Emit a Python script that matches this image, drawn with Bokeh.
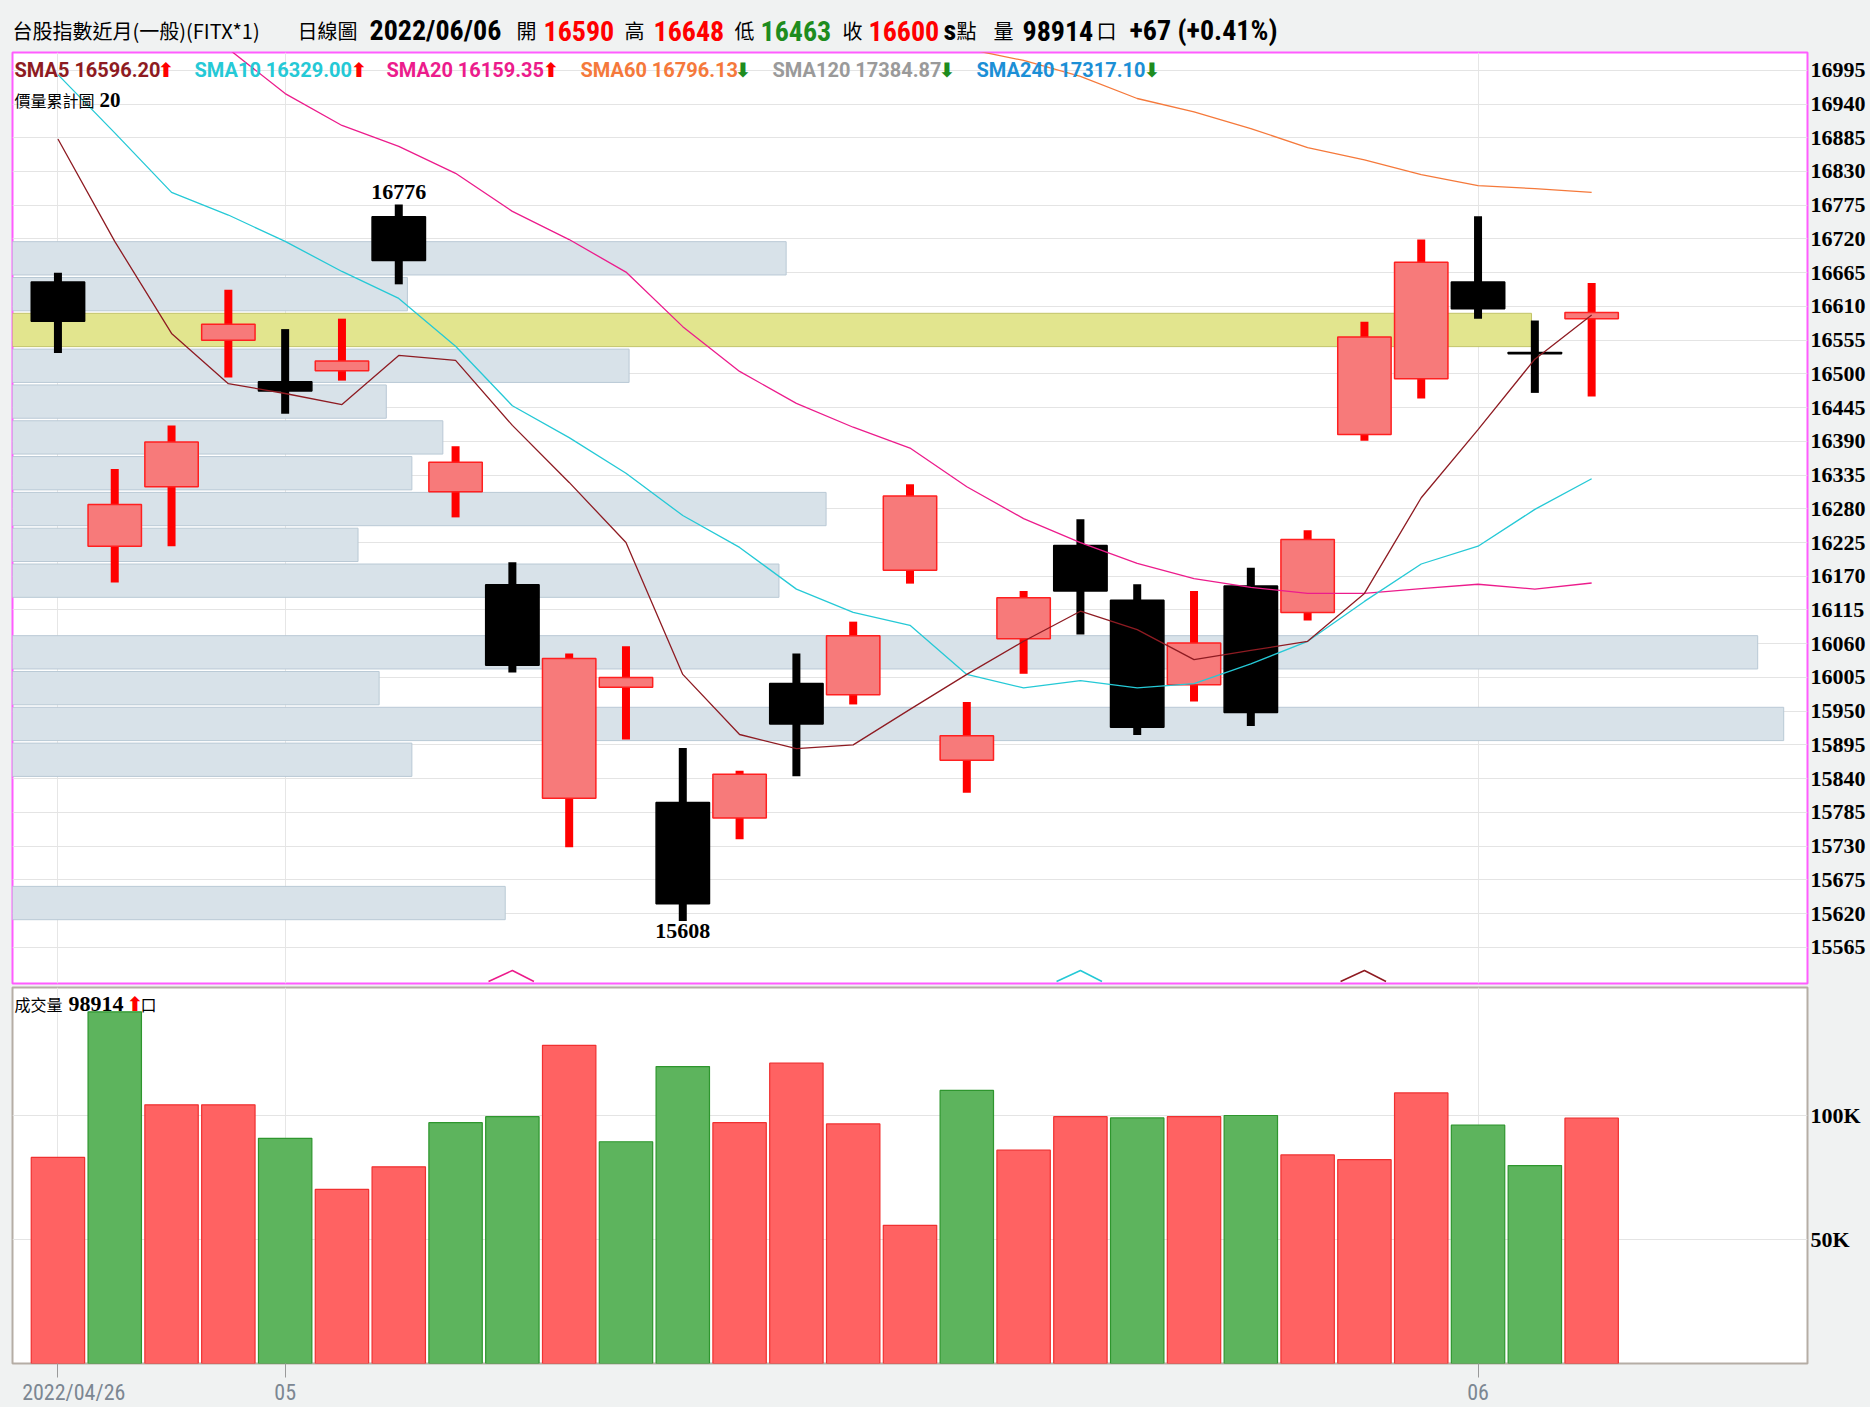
import numpy as np
from bokeh.plotting import figure
from bokeh.layouts import column
from bokeh.models import Range1d, FixedTicker
from bokeh.core.properties import value
from bokeh.embed import file_html
from bokeh.resources import INLINE

# ---------------- data ----------------
year = "2022"
dates = ["2022/04/26", "04/27", "04/28", "04/29", "05/03", "05/04", "05/05", "05/06",
         "05/09", "05/10", "05/11", "05/12", "05/13", "05/16", "05/17", "05/18", "05/19",
         "05/20", "05/23", "05/24", "05/25", "05/26", "05/27", "05/30", "05/31", "06/01",
         "06/02", "06/06"]
opens = [16650, 16219, 16316, 16555, 16487, 16505, 16756, 16308, 16156, 15808, 15989, 15801,
         15776, 15995, 15977, 16180, 15870, 16068, 16220, 16131, 15993, 16154, 16111, 16401,
         16492, 16650, 16535, 16590]
highs = [16665, 16345, 16416, 16637, 16573, 16590, 16776, 16382, 16193, 16044, 16056, 15890,
         15853, 16044, 16096, 16320, 15965, 16146, 16263, 16157, 16146, 16184, 16245, 16585,
         16719, 16757, 16587, 16648]
lows = [16534, 16160, 16219, 16494, 16435, 16489, 16646, 16266, 16013, 15728, 15904, 15608,
        15741, 15844, 15961, 16158, 15817, 16011, 16075, 15911, 15966, 15926, 16098, 16391,
        16460, 16590, 16469, 16463]
closes = [16586, 16287, 16389, 16581, 16472, 16521, 16685, 16356, 16025, 16036, 16005, 15636,
          15847, 15929, 16073, 16301, 15910, 16135, 16146, 15924, 16061, 15948, 16230, 16560,
          16682, 16606, 16533, 16600]
volumes = [83100, 141800, 104300, 104300, 90800, 70200, 79300, 97100, 99500, 128300, 89400,
           119700, 97100, 121100, 96600, 55700, 110100, 86000, 99500, 99000, 99500, 100000,
           84100, 82200, 109100, 96100, 79800, 98914]

sma5 = [16883, 16716, 16566, 16484, 16468, 16450, 16530, 16522, 16416, 16323, 16225, 16010,
        15912, 15889, 15895, 15953, 16010, 16064, 16113, 16083, 16034, 16049, 16064, 16142,
        16298, 16409, 16524, 16596]
sma10 = [16988, 16893, 16796, 16759, 16716, 16667, 16623, 16545, 16448, 16396, 16338, 16269,
         16217, 16149, 16111, 16090, 16010, 15988, 16000, 15988, 15995, 16027, 16064, 16129,
         16190, 16219, 16279, 16329]
sma20 = [17180, 17130, 17080, 17030, 16957, 16905, 16871, 16827, 16765, 16719, 16666, 16577,
         16504, 16452, 16413, 16379, 16316, 16264, 16225, 16191, 16166, 16152, 16142, 16142,
         16150, 16157, 16149, 16159]
sma60 = [17330, 17310, 17290, 17270, 17250, 17230, 17210, 17190, 17170, 17150, 17130, 17110,
         17095, 17080, 17065, 17050, 17030, 17011, 16985, 16949, 16927, 16900, 16869, 16849,
         16825, 16807, 16802, 16796]

sma_names = ["SMA5", "SMA10", "SMA20", "SMA60", "SMA120", "SMA240"]
sma_last = [16596.20, 16329.00, 16159.35, 16796.13, 17384.87, 17317.10]
sma_up = [True, True, True, False, False, False]

# volume profile (價量累計圖), 20 bins from period high to low, top bin first
profile_bins = 20
profile = [0, 172.4, 88.0, 338.5, 137.4, 83.3, 95.9, 89.0, 181.3, 77.0, 170.8, 0,
           388.9, 81.7, 394.7, 89.0, 0, 0, 0, 109.8]

signal_idx = [8, 18, 23]

price_ticks = [15565, 15620, 15675, 15730, 15785, 15840, 15895, 15950, 16005, 16060, 16115,
               16170, 16225, 16280, 16335, 16390, 16445, 16500, 16555, 16610, 16665, 16720,
               16775, 16830, 16885, 16940, 16995]
vol_ticks = [50000, 100000]
vol_tick_labels = ["50K", "100K"]
date_tick_idx = [0, 4, 25]
date_tick_labels = ["\u2007\u20072022/04/26", "05", "06"]

# ---------------- styles ----------------
BG = "#F0F2F2"
W = 1870
C_SMA = ["#8E1B22", "#25C9D6", "#EC1C8C", "#F5793B", "#9A9A9A", "#1C8FD6"]
RED = "#FF0000"
GREEN = "#1E8C1E"
CJK = "Noto Sans CJK TC"
NUMF = "Roboto Condensed"
SERIF = "Liberation Serif"
LEGF = "Roboto"
ARROWF = "DejaVu Sans"
UPA, DNA = "\u2b06", "\u2b07"

n = len(dates)
x = np.arange(n)
o = np.array(opens); h = np.array(highs); l = np.array(lows); c = np.array(closes)
up = c > o

# ---------------- header ----------------
hdr = figure(width=W, height=50, x_range=Range1d(12, 1807), y_range=Range1d(50, 0),
             x_axis_location=None, y_axis_location=None, output_backend="svg",
             toolbar_location=None, min_border=0, border_fill_color=BG,
             background_fill_color=BG, outline_line_color=None)
hdr.grid.visible = False
chg = closes[-1] - closes[-2]
pct = chg / closes[-2] * 100
hdr_cjk = [(12, "台股指數近月(一般)(FITX*1)"), (297, "日線圖"), (516, "開"), (624, "高"),
           (734, "低"), (842, "收"), (956, "點"), (993, "量"), (1096, "口")]
hdr_num = [(369, f"{year}/{dates[-1]}", "black"), (543, str(opens[-1]), RED),
           (653, str(highs[-1]), RED), (760, str(lows[-1]), GREEN), (868, str(closes[-1]), RED),
           (943, "s", "black"), (1022, str(volumes[-1]), "black"),
           (1129, f"{chg:+d} ({pct:+.2f}%)", "black")]
hdr.text(x=[a for a, _ in hdr_cjk], y=[30] * len(hdr_cjk), text=[b for _, b in hdr_cjk],
         text_font=value(CJK), text_font_size=value("20px"), text_color="black",
         text_baseline="middle")
hdr.text(x=[a for a, _, _ in hdr_num], y=[30] * len(hdr_num), text=[b for _, b, _ in hdr_num],
         text_color=[cc for _, _, cc in hdr_num], text_font=value(NUMF),
         text_font_size=value("28px"), text_font_style="bold", text_baseline="middle")

# ---------------- main price chart ----------------
FW, FH = 1795, 931
p = figure(width=W, height=935, x_range=Range1d(-0.8, 30.8), y_range=Range1d(15506, 17024),
           y_axis_location="right", output_backend="svg", toolbar_location=None,
           min_border_left=12, min_border_right=63, min_border_top=2, min_border_bottom=2,
           border_fill_color=BG, background_fill_color="white",
           outline_line_color="#FF5CFF", outline_line_width=2)
p.extra_x_ranges = {"vp": Range1d(0, 400), "px": Range1d(0, FW)}
p.extra_y_ranges = {"py": Range1d(FH, 0)}
p.xaxis.visible = False
p.xgrid.ticker = FixedTicker(ticks=date_tick_idx)
p.xgrid.grid_line_color = "#E6E6E6"
p.ygrid.ticker = FixedTicker(ticks=price_ticks)
p.ygrid.grid_line_color = "#E4E4E4"
p.yaxis.ticker = FixedTicker(ticks=price_ticks)
p.yaxis.major_tick_out = 0
p.yaxis.major_tick_in = 0
p.yaxis.minor_tick_out = 0
p.yaxis.axis_line_color = None
p.yaxis.major_label_standoff = 3
p.yaxis.major_label_text_font = SERIF
p.yaxis.major_label_text_font_style = "bold"
p.yaxis.major_label_text_font_size = "22px"
p.yaxis.major_label_text_color = "black"

# volume profile bars
hi, lo = max(highs), min(lows)
step = (hi - lo) / profile_bins
cur_bin = int((hi - closes[-1]) // step)
vp_y, vp_r, vp_fill, vp_line = [], [], [], []
for i, val in enumerate(profile):
    if val <= 0:
        continue
    vp_y.append(hi - step * (i + 0.5))
    vp_r.append(val)
    vp_fill.append("#E2E58E" if i == cur_bin else "#D8E2E9")
    vp_line.append("#C2C46A" if i == cur_bin else "#B9C9D5")
p.hbar(y=vp_y, left=0, right=vp_r, height=step * 0.93, fill_color=vp_fill,
       line_color=vp_line, line_width=1, x_range_name="vp")

# candles
ccol = [RED if u else "black" for u in up]
p.segment(x0=x, y0=l, x1=x, y1=h, line_width=8, line_color=ccol)
p.vbar(x=x, width=0.94, top=np.maximum(o, c), bottom=np.minimum(o, c),
       fill_color=["#F77A7A" if u else "black" for u in up],
       line_color=["#FF2020" if u else "black" for u in up], line_width=1.5)

# moving averages
for arr, col in zip([sma60, sma20, sma10, sma5], [C_SMA[3], C_SMA[2], C_SMA[1], C_SMA[0]]):
    p.line(x, arr, line_color=col, line_width=1.3)

# signal marks at bottom
sig_cols = [C_SMA[2], C_SMA[1], C_SMA[0]]
p.multi_line(xs=[[i - 0.42, i, i + 0.38] for i in signal_idx],
             ys=[[FH - 2, FH - 13, FH - 2] for _ in signal_idx],
             line_color=sig_cols, line_width=1.5, y_range_name="py")

# extreme labels
imax = int(np.argmax(h)); imin = int(np.argmin(l))
p.text(x=[imax], y=[h[imax]], text=[str(h[imax])], text_align="center",
       text_baseline="bottom", y_offset=-6, text_font=value(SERIF),
       text_font_style="bold", text_font_size=value("22px"), text_color="black")
p.text(x=[imin], y=[l[imin]], text=[str(l[imin])], text_align="center",
       text_baseline="top", y_offset=3, text_font=value(SERIF),
       text_font_style="bold", text_font_size=value("22px"), text_color="black")

# SMA legend
leg_x = [2, 182, 374, 568, 760, 964]
arrow_x = [145, 338, 530, 722, 926, 1131]
p.text(x=leg_x, y=[17] * 6, text=[f"{nm} {v:.2f}" for nm, v in zip(sma_names, sma_last)],
       text_color=C_SMA, text_font=value(LEGF), text_font_style="bold",
       text_font_size=value("20px"), text_baseline="middle",
       x_range_name="px", y_range_name="py")
p.text(x=arrow_x, y=[17] * 6, text=[UPA if u else DNA for u in sma_up],
       text_color=[RED if u else GREEN for u in sma_up], text_font=value(ARROWF),
       text_font_style="bold", text_font_size=value("20px"), text_baseline="middle",
       x_range_name="px", y_range_name="py")
p.text(x=[2], y=[47], text=["價量累計圖"], text_font=value(CJK), text_font_size=value("16px"),
       text_color="black", text_baseline="middle", x_range_name="px", y_range_name="py")
p.text(x=[87], y=[47], text=[str(profile_bins)], text_font=value(SERIF), text_font_style="bold",
       text_font_size=value("21px"), text_color="black", text_baseline="middle",
       x_range_name="px", y_range_name="py")

# ---------------- volume chart ----------------
v = figure(width=W, height=422, x_range=p.x_range, y_range=Range1d(0, 151600),
           y_axis_location="right", output_backend="svg", toolbar_location=None,
           min_border_left=12, min_border_right=63, min_border_top=2, min_border_bottom=44,
           border_fill_color=BG, background_fill_color="white",
           outline_line_color="#B5ADA5", outline_line_width=2)
v.extra_x_ranges = {"px": Range1d(0, FW)}
v.extra_y_ranges = {"py": Range1d(376, 0)}
vdir = [True] + [closes[i] >= closes[i - 1] for i in range(1, n)]
v.vbar(x=x, width=0.94, top=volumes, bottom=0,
       fill_color=["#FF6262" if d else "#5DB45D" for d in vdir],
       line_color=["#F03030" if d else "#2E962E" for d in vdir], line_width=1.2)
v.xgrid.ticker = FixedTicker(ticks=date_tick_idx)
v.xgrid.grid_line_color = "#E6E6E6"
v.ygrid.ticker = FixedTicker(ticks=vol_ticks)
v.ygrid.grid_line_color = "#E4E4E4"
v.yaxis.ticker = FixedTicker(ticks=vol_ticks)
v.yaxis.major_label_overrides = {t: s for t, s in zip(vol_ticks, vol_tick_labels)}
v.yaxis.major_tick_out = 0
v.yaxis.major_tick_in = 0
v.yaxis.minor_tick_out = 0
v.yaxis.axis_line_color = None
v.yaxis.major_label_standoff = 3
v.yaxis.major_label_text_font = SERIF
v.yaxis.major_label_text_font_style = "bold"
v.yaxis.major_label_text_font_size = "22px"
v.yaxis.major_label_text_color = "black"
v.xaxis.ticker = FixedTicker(ticks=date_tick_idx)
v.xaxis.major_label_overrides = {t: s for t, s in zip(date_tick_idx, date_tick_labels)}
v.xaxis.major_tick_out = 14
v.xaxis.major_tick_in = 0
v.xaxis.minor_tick_out = 0
v.xaxis.major_tick_line_color = "#9A9A9A"
v.xaxis.axis_line_color = None
v.xaxis.major_label_standoff = 2
v.xaxis.major_label_text_font = NUMF
v.xaxis.major_label_text_font_size = "22px"
v.xaxis.major_label_text_color = "#7C8792"

v.text(x=[2], y=[16], text=["成交量"], text_font=value(CJK), text_font_size=value("16px"),
       text_color="black", text_baseline="middle", x_range_name="px", y_range_name="py")
v.text(x=[56], y=[16], text=[str(volumes[-1])], text_font=value(SERIF), text_font_style="bold",
       text_font_size=value("22px"), text_color="black", text_baseline="middle",
       x_range_name="px", y_range_name="py")
v.text(x=[114], y=[16], text=[UPA if vdir[-1] else DNA], text_font=value(ARROWF),
       text_font_style="bold", text_font_size=value("20px"),
       text_color=RED if vdir[-1] else GREEN, text_baseline="middle",
       x_range_name="px", y_range_name="py")
v.text(x=[128], y=[16], text=["口"], text_font=value(CJK), text_font_size=value("16px"),
       text_color="black", text_baseline="middle", x_range_name="px", y_range_name="py")

layout = column(hdr, p, v, spacing=0)
html = file_html(layout, INLINE, title="台股指數近月 日線圖")
html = html.replace("<body>", f'<body style="margin:0;background:{BG}">')
open("out.html", "w").write(html)
